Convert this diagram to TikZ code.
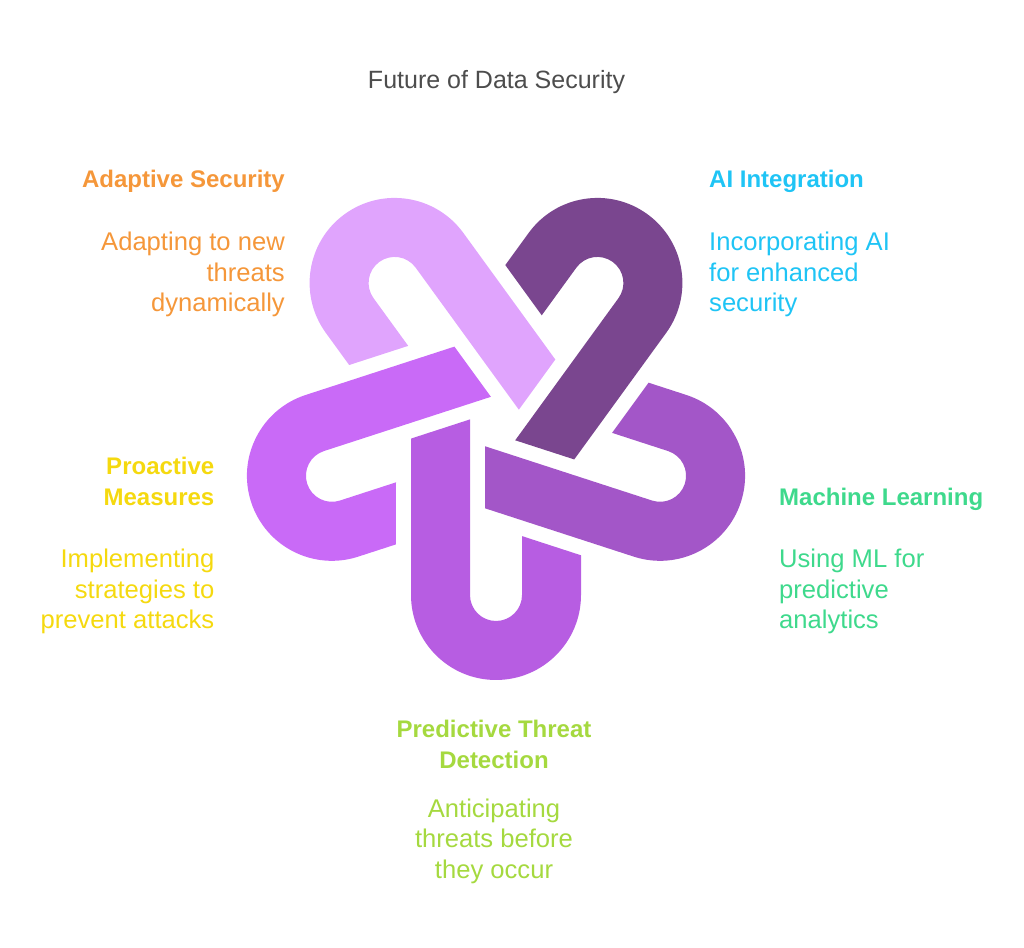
\documentclass[tikz,border=0pt]{standalone}
\usepackage{fontspec}
\setmainfont{Liberation Sans}
\definecolor{titleGray}{HTML}{4D4D4D}
\definecolor{adaptOrange}{HTML}{F5973A}
\definecolor{aiCyan}{HTML}{1FC4F5}
\definecolor{mlGreen}{HTML}{3ED98C}
\definecolor{proYellow}{HTML}{F5D90F}
\definecolor{predGreen}{HTML}{A5D93F}
\definecolor{linkPred}{HTML}{B75DE2}
\definecolor{linkPro}{HTML}{C96AF7}
\definecolor{linkAdapt}{HTML}{E0A4FD}
\definecolor{linkAi}{HTML}{7A468F}
\definecolor{linkMl}{HTML}{A356C8}

\begin{document}
\begin{tikzpicture}[x = 1pt, y = 1pt]
	\tikzstyle{titleStyle} = [inner sep = 0pt, text = titleGray, font = \fontsize{25}{31}\selectfont]
	\tikzstyle{headStyle} = [inner sep = 0pt, font = \fontsize{24}{30.75}\selectfont\bfseries]
	\tikzstyle{descStyle} = [inner sep = 0pt, font = \fontsize{25.6}{30.75}\selectfont]
	\useasboundingbox (0, 0) rectangle (1024, 947);
	% the five links, one per scope
	\begin{scope}[shift = {(496, 524.5)}, rotate = 0]
		\fill[linkPred] (-26, 3.1) -- (-85, -16.1) -- (-85, -172.5) arc[start angle = 180, end angle = 360, radius = 85] -- (85, -132.8) -- (26, -113.6) -- (26, -172.5) arc[start angle = 0, end angle = -180, radius = 26] -- cycle;
	\end{scope}
	\begin{scope}[shift = {(496, 524.5)}, rotate = -72]
		\fill[linkPro] (-26, 3.1) -- (-85, -16.1) -- (-85, -172.5) arc[start angle = 180, end angle = 360, radius = 85] -- (85, -132.8) -- (26, -113.6) -- (26, -172.5) arc[start angle = 0, end angle = -180, radius = 26] -- cycle;
	\end{scope}
	\begin{scope}[shift = {(496, 524.5)}, rotate = -144]
		\fill[linkAdapt] (-26, 3.1) -- (-85, -16.1) -- (-85, -172.5) arc[start angle = 180, end angle = 360, radius = 85] -- (85, -132.8) -- (26, -113.6) -- (26, -172.5) arc[start angle = 0, end angle = -180, radius = 26] -- cycle;
	\end{scope}
	\begin{scope}[shift = {(496, 524.5)}, rotate = -216]
		\fill[linkAi] (-26, 3.1) -- (-85, -16.1) -- (-85, -172.5) arc[start angle = 180, end angle = 360, radius = 85] -- (85, -132.8) -- (26, -113.6) -- (26, -172.5) arc[start angle = 0, end angle = -180, radius = 26] -- cycle;
	\end{scope}
	\begin{scope}[shift = {(496, 524.5)}, rotate = -288]
		\fill[linkMl] (-26, 3.1) -- (-85, -16.1) -- (-85, -172.5) arc[start angle = 180, end angle = 360, radius = 85] -- (85, -132.8) -- (26, -113.6) -- (26, -172.5) arc[start angle = 0, end angle = -180, radius = 26] -- cycle;
	\end{scope}
	% texts (base anchor sits on the last line)
	\node[titleStyle, anchor = base] (title) at (496.5, 858.7) {Future of Data Security};
	\node[headStyle, text = adaptOrange, anchor = base east, align = right] (h0) at (285, 759.5) {Adaptive Security};
	\node[descStyle, text = adaptOrange, anchor = base east, align = right] (d0) at (285, 635) {Adapting to new\\threats\\dynamically};
	\node[headStyle, text = aiCyan, anchor = base west, align = left] (h1) at (709, 759.5) {AI Integration};
	\node[descStyle, text = aiCyan, anchor = base west, align = left] (d1) at (709, 635) {Incorporating AI\\for enhanced\\security};
	\node[headStyle, text = mlGreen, anchor = base west, align = left] (h2) at (779, 441.5) {Machine Learning};
	\node[descStyle, text = mlGreen, anchor = base west, align = left] (d2) at (779, 318) {Using ML for\\predictive\\analytics};
	\node[headStyle, text = proYellow, anchor = base east, align = right] (h3) at (214.5, 441.5) {Proactive\\Measures};
	\node[descStyle, text = proYellow, anchor = base east, align = right] (d3) at (214.5, 318) {Implementing\\strategies to\\prevent attacks};
	\node[headStyle, text = predGreen, anchor = base, align = center] (h4) at (494, 178.5) {Predictive Threat\\Detection};
	\node[descStyle, text = predGreen, anchor = base, align = center] (d4) at (494, 68.5) {Anticipating\\threats before\\they occur};
\end{tikzpicture}
\end{document}
